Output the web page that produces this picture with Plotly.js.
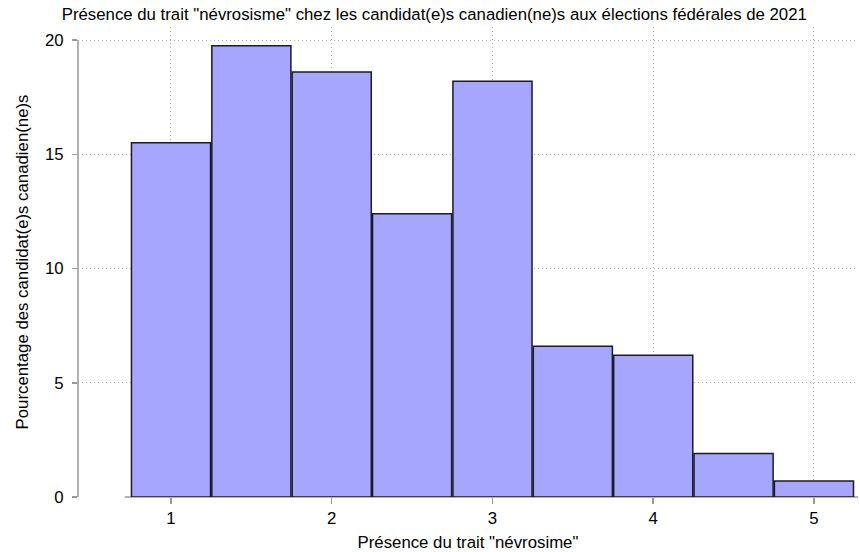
<!DOCTYPE html>
<html>
<head>
<meta charset="utf-8">
<script src="https://cdn.plot.ly/plotly-3.0.1.min.js"></script>
<style>html,body{margin:0;padding:0;background:#fff;}#chart{width:860px;height:552px;}</style>
</head>
<body>
<div id="chart"></div>
<script>
// Bin centers of the histogram (trait score)
const binCenters = [1, 1.5, 2, 2.5, 3, 3.5, 4, 4.5, 5];
// Percentage of candidates in each bin
const percentages = [15.5, 19.75, 18.6, 12.4, 18.2, 6.6, 6.2, 1.9, 0.7];
const xTickVals = [1, 2, 3, 4, 5];
const xTickText = ["1", "2", "3", "4", "5"];
const yTickVals = [0, 5, 10, 15, 20];
const yTickText = ["0", "5", "10", "15", "20"];

const font = "Liberation Sans, Arial, sans-serif";
const fs = 16.8;

const trace = {
  type: "bar",
  x: binCenters,
  y: percentages,
  width: 0.492,
  marker: { color: "#a6a6ff", line: { color: "#1a1a2a", width: 1.5 } },
  hoverinfo: "x+y"
};

const layout = {
  width: 860, height: 552,
  margin: { l: 78, r: 2, t: 27, b: 55 },
  paper_bgcolor: "#ffffff",
  plot_bgcolor: "#ffffff",
  showlegend: false,
  font: { family: font, size: fs, color: "#000" },
  title: {
    text: 'Présence du trait "névrosisme" chez les candidat(e)s canadien(ne)s aux élections fédérales de 2021',
    font: { family: font, size: fs, color: "#000" },
    xref: "container", x: 0.505, xanchor: "center",
    yref: "container", y: 0.975, yanchor: "middle"
  },
  xaxis: {
    range: [0.4215, 5.274],
    tickvals: xTickVals, ticktext: xTickText,
    ticks: "outside", ticklen: 6, tickcolor: "#999", tickwidth: 1.5,
    showgrid: true, gridcolor: "#b0b0b0", griddash: "1px,3px", gridwidth: 1,
    zeroline: false, showline: false,
    tickfont: { family: font, size: fs, color: "#000" },
    title: { text: 'Présence du trait "névrosime"', font: { family: font, size: fs, color: "#000" }, standoff: 10 }
  },
  yaxis: {
    range: [0, 20.57],
    tickvals: yTickVals, ticktext: yTickText,
    ticks: "outside", ticklen: 5, tickcolor: "#999", tickwidth: 1.5,
    showgrid: true, gridcolor: "#b0b0b0", griddash: "1px,3px", gridwidth: 1,
    zeroline: false, showline: false,
    ticklabelstandoff: 5,
    tickfont: { family: font, size: fs, color: "#000" },
    title: { text: "Pourcentage des candidat(e)s canadien(ne)s", font: { family: font, size: fs, color: "#000" }, standoff: 12 }
  },
  shapes: [
    { type: "line", xref: "paper", yref: "y", x0: 0, x1: 0, y0: 0, y1: 20, line: { color: "#999", width: 1.5 }, layer: "above" },
    { type: "line", xref: "paper", yref: "paper", x0: 0.06, x1: 1, y0: 0, y1: 0, line: { color: "#999", width: 1.5 }, layer: "below" }
  ],
  bargap: 0
};

Plotly.newPlot("chart", [trace], layout, { displayModeBar: false, staticPlot: true });
</script>
</body>
</html>
